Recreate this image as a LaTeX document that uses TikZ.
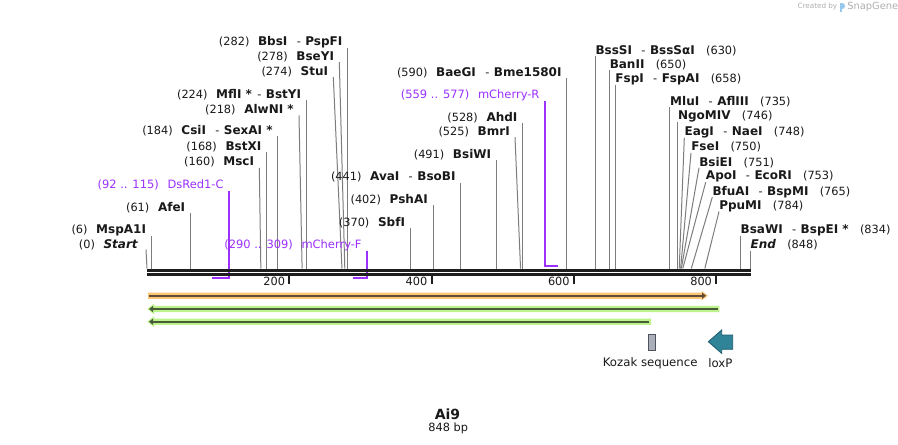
\documentclass[tikz,border=0pt]{standalone}
\usepackage{fontspec}
\setmainfont{DejaVu Sans}
\usetikzlibrary{arrows.meta}
\definecolor{txt}{RGB}{25,25,25}
\definecolor{leadgray}{RGB}{125,125,125}
\definecolor{primer}{RGB}{155,48,255}
\definecolor{bbcol}{RGB}{30,30,30}
\definecolor{orfill}{RGB}{250,198,115}
\definecolor{orline}{RGB}{95,75,55}
\definecolor{grfill}{RGB}{190,243,140}
\definecolor{grline}{RGB}{72,92,58}
\definecolor{kozak}{RGB}{170,175,185}
\definecolor{kozakline}{RGB}{80,82,92}
\definecolor{loxp}{RGB}{48,132,152}
\definecolor{loxpline}{RGB}{28,92,108}
\definecolor{wm}{RGB}{175,175,175}
\definecolor{wmblue}{RGB}{150,200,235}
\pgfmathdeclarefunction{bx}{1}{\pgfmathparse{147+0.7115*#1}}
\newcommand{\nm}[1]{{\fontsize{9}{10}\selectfont\bfseries #1}}
\newcommand{\dsh}{\hspace{7pt}-\hspace{3.4pt}}
\newcommand{\gapL}{\hspace{6.5pt}}
\newcommand{\gapR}{\hspace{8.5pt}}
\newcommand{\Llab}[5]{%
  \node[lab,anchor=east] (#1) at ({#2-5},#3) {#5};
  \coordinate (#1s) at ({bx(#4)},268.5);
  \draw[lead] ([shift={(5,5.5)}]#1.east) -- (#1s);}
\newcommand{\Rlab}[5]{%
  \node[lab,anchor=west] (#1) at ({#2},#3) {#5};
  \coordinate (#1s) at ({bx(#4)},268.5);
  \draw[lead] ([shift={(0,5.5)}]#1.west) -- (#1s);}
\tikzset{
  lab/.style={inner sep=0pt, font=\fontsize{8.5}{10}\selectfont, text=txt},
  plab/.style={inner sep=0pt, font=\fontsize{8.6}{10}\selectfont, text=primer},
  lead/.style={draw=leadgray, line width=0.75pt},
  primerline/.style={draw=primer, line width=1.5pt},
  tickline/.style={draw=bbcol, line width=1.4pt},
  featlab/.style={inner sep=0pt, font=\fontsize{8.8}{10}\selectfont, text=txt},
}
\begin{document}
\begin{tikzpicture}[x=0.75pt,y=-0.75pt]
\useasboundingbox[fill=white] (0,0) rectangle (898,445);

% watermark
\node[inner sep=0pt, font=\fontsize{5.4}{6}\selectfont, text=wm, anchor=east] (cb) at (837.5,7) {Created by};
\fill[wmblue] (839.5,3) rectangle (841.5,12);
\fill[wmblue] (841.5,3) .. controls (846,3) and (846,9) .. (841.5,9) -- cycle;
\node[inner sep=0pt, font=\fontsize{7.4}{8}\selectfont, text=wm, anchor=west] (sg) at (847,7) {SnapGene};

% left labels
\Llab{BbsI}{bx(282)}{42.3}{282}{(282)\gapL\nm{BbsI}\dsh\nm{PspFI}}
\Llab{BseYI}{339.3}{56.7}{278}{(278)\gapL\nm{BseYI}}
\Llab{StuI}{333.3}{71.7}{274}{(274)\gapL\nm{StuI}}
\Llab{MflI}{bx(224)}{95}{224}{(224)\gapL\nm{MflI *}\hspace{4pt}-\hspace{3.4pt}\nm{BstYI}}
\Llab{AlwNI}{299}{110}{218}{(218)\gapL\nm{AlwNI *}}
\Llab{CsiI}{bx(184)}{131}{184}{(184)\gapL\nm{CsiI}\dsh\nm{SexAI *}}
\Llab{BstXI}{bx(168)}{146.7}{168}{(168)\gapL\nm{BstXI}}
\Llab{MscI}{259.3}{162.3}{160}{(160)\gapL\nm{MscI}}
\Llab{AfeI}{bx(61)}{207.3}{61}{(61)\gapL\nm{AfeI}}
\Llab{MspAI}{bx(6)}{230}{6}{(6)\gapL\nm{MspA1I}}
\node[lab,anchor=east] (Start) at (138,245) {(0)\gapL\nm{\itshape Start}};
\coordinate (Starts) at ({bx(0)},268.5);
\draw[lead] ([shift={(8,4.5)}]Start.east) -- (Starts);
\Llab{BaeGI}{bx(590)}{72.3}{590}{(590)\gapL\nm{BaeGI}\dsh\nm{Bme1580I}}
\Llab{AhdI}{bx(528)}{117.3}{528}{(528)\gapL\nm{AhdI}}
\Llab{BmrI}{515}{131.7}{525}{(525)\gapL\nm{BmrI}}
\Llab{BsiWI}{bx(491)}{155}{491}{(491)\gapL\nm{BsiWI}}
\Llab{AvaI}{bx(441)}{177.3}{441}{(441)\gapL\nm{AvaI}\dsh\nm{BsoBI}}
\Llab{PshAI}{bx(402)}{199.3}{402}{(402)\gapL\nm{PshAI}}
\Llab{SbfI}{bx(370)}{222.3}{370}{(370)\gapL\nm{SbfI}}

% right labels
\Rlab{BssSI}{bx(630)}{50.7}{630}{\nm{BssSI}\dsh\nm{BssSαI}\gapR(630)}
\Rlab{BanII}{bx(650)}{65}{650}{\nm{BanII}\gapR(650)}
\Rlab{FspI}{bx(658)}{79.3}{658}{\nm{FspI}\dsh\nm{FspAI}\gapR(658)}
\Rlab{MluI}{bx(735)}{101.7}{735}{\nm{MluI}\dsh\nm{AflIII}\gapR(735)}
\Rlab{NgoMIV}{bx(746)}{116.7}{746}{\nm{NgoMIV}\gapR(746)}
\Rlab{EagI}{684.3}{132.3}{748}{\nm{EagI}\dsh\nm{NaeI}\gapR(748)}
\Rlab{FseI}{691}{147.3}{750}{\nm{FseI}\gapR(750)}
\Rlab{BsiEI}{699}{162.3}{751}{\nm{BsiEI}\gapR(751)}
\Rlab{ApoI}{705.7}{176.7}{753}{\nm{ApoI}\dsh\nm{EcoRI}\gapR(753)}
\Rlab{BfuAI}{712.3}{191.7}{765}{\nm{BfuAI}\dsh\nm{BspMI}\gapR(765)}
\Rlab{PpuMI}{719}{206}{784}{\nm{PpuMI}\gapR(784)}
\Rlab{BsaWI}{bx(834)}{230}{834}{\nm{BsaWI}\dsh\nm{BspEI *}\gapR(834)}
\Rlab{End}{bx(848)}{245}{848}{\nm{\itshape End}\gapR(848)}

% primers
\node[plab,anchor=east] (DsRed) at ({bx(115)-5},185) {(92 .. 115)\hspace{6.5pt}DsRed1-C};
\coordinate (DsRedA) at ({bx(115)},278.3);
\coordinate (DsRedB) at ({bx(92)},278.3);
\draw[primerline] ([shift={(5,5.7)}]DsRed.east) -- (DsRedA) -- (DsRedB);
\node[plab,anchor=east] (mChF) at ({bx(309)-5},245) {(290 .. 309)\hspace{6.5pt}mCherry-F};
\coordinate (mChFA) at ({bx(309)},278.3);
\coordinate (mChFB) at ({bx(290)},278.3);
\draw[primerline] ([shift={(5,5.7)}]mChF.east) -- (mChFA) -- (mChFB);
\node[plab,anchor=east] (mChR) at ({bx(559)-5},95) {(559 .. 577)\hspace{6.5pt}mCherry-R};
\coordinate (mChRA) at ({bx(559)},265.8);
\coordinate (mChRB) at ({bx(577)},265.8);
\draw[primerline] ([shift={(5,5.7)}]mChR.east) -- (mChRA) -- (mChRB);

% backbone
\fill[bbcol] ({bx(0)},268.5) rectangle ({bx(848)+0.4},272);
\fill[bbcol] ({bx(0)},273.3) rectangle ({bx(848)+0.4},276);
\foreach \t in {200,400,600,800}{
  \coordinate (tk\t) at ({bx(\t)},276);
  \draw[tickline] (tk\t) -- ++(0,7.5);
  \node[lab,anchor=east] (tl\t) at ([shift={(-4,5.7)}]tk\t) {\t};
}

% features
\fill[orfill] (148,292.6) -- (701.5,292.6) -- (701.5,290.8) -- (708,295.7) -- (701.5,300.6) -- (701.5,298.8) -- (148,298.8) -- cycle;
\draw[orline, line width=1.2pt, -{Triangle[length=3pt,width=4.5pt]}] (148.5,295.7) -- (706,295.7);

\fill[grfill] (147.3,309) -- (154,303.6) -- (154,305.9) -- (719.3,305.9) -- (719.3,312.1) -- (154,312.1) -- (154,314.4) -- cycle;
\draw[grline, line width=1.2pt, -{Triangle[length=3pt,width=4.5pt]}] (717.5,309) -- (149,309);

\fill[grfill] (147.3,321.7) -- (154,316.3) -- (154,318.6) -- (651,318.6) -- (651,324.8) -- (154,324.8) -- (154,327.1) -- cycle;
\draw[grline, line width=1.2pt, -{Triangle[length=3pt,width=4.5pt]}] (649.3,321.7) -- (149,321.7);

% Kozak sequence
\draw[fill=kozak, draw=kozakline, line width=0.75pt] (648.3,334) rectangle (655.7,350);
\node[featlab] (kozakl) at (650.2,363.3) {Kozak sequence};

% loxP
\draw[fill=loxp, draw=loxpline, line width=0.6pt, line join=miter] (708.3,341.7) -- (721.7,330) -- (721.7,335) -- (732.7,335) -- (732.7,349.3) -- (721.7,349.3) -- (721.7,353.4) -- cycle;
\node[featlab] (loxpl) at (720.3,363.3) {loxP};

% title
\node[inner sep=0pt, font=\fontsize{10.5}{12}\selectfont\bfseries, text=txt] (title) at (447.5,414.3) {Ai9};
\node[lab] (len) at (448.3,428.3) {848 bp};
\end{tikzpicture}
\end{document}
